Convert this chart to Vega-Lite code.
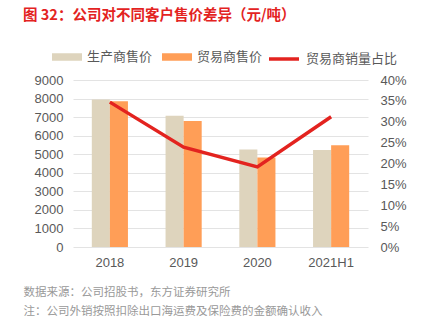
{
  "$schema": "https://vega.github.io/schema/vega-lite/v6.json",
  "width": 295,
  "height": 167,
  "autosize": {"type": "none"},
  "padding": {"left": 73, "top": 80, "right": 53, "bottom": 86},
  "background": "white",
  "title": {
    "text": "图 32：公司对不同客户售价差异（元/吨）",
    "anchor": "start",
    "frame": "group",
    "dx": -50,
    "offset": 19,
    "font": "Noto Sans CJK SC",
    "fontSize": 14.5,
    "fontWeight": "bold",
    "color": "#e3231f"
  },
  "config": {
    "view": {"stroke": null},
    "font": "Liberation Sans",
    "axis": {"labelColor": "#595959", "labelFontSize": 13, "labelFont": "Liberation Sans", "ticks": false, "domain": false},
    "legend": {"labelFont": "Noto Sans CJK SC", "labelFontSize": 13, "labelColor": "#595959"}
  },
  "data": {
    "values": [
      {"year": "2018", "series": "生产商售价", "price": 7950, "share": 0.347},
      {"year": "2018", "series": "贸易商售价", "price": 7850, "share": 0.347},
      {"year": "2019", "series": "生产商售价", "price": 7080, "share": 0.239},
      {"year": "2019", "series": "贸易商售价", "price": 6790, "share": 0.239},
      {"year": "2020", "series": "生产商售价", "price": 5250, "share": 0.192},
      {"year": "2020", "series": "贸易商售价", "price": 4820, "share": 0.192},
      {"year": "2021H1", "series": "生产商售价", "price": 5230, "share": 0.312},
      {"year": "2021H1", "series": "贸易商售价", "price": 5480, "share": 0.312}
    ]
  },
  "encoding": {
    "x": {
      "field": "year",
      "type": "nominal",
      "sort": null,
      "scale": {"paddingInner": 0.51, "paddingOuter": 0.255},
      "axis": {
        "labelAngle": 0,
        "labelPadding": 9,
        "grid": false,
        "title": ["数据来源：公司招股书，东方证券研究所", "注：公司外销按照扣除出口海运费及保险费的金额确认收入"],
        "titleFont": "Noto Sans CJK SC",
        "titleFontSize": 11.5,
        "titleFontWeight": "normal",
        "titleColor": "#999999",
        "titleAnchor": "start",
        "titleAlign": "left",
        "titleBaseline": "middle",
        "titleX": -50,
        "titleY": 45,
        "titleLineHeight": 19
      }
    }
  },
  "layer": [
    {
      "mark": {"type": "bar"},
      "encoding": {
        "xOffset": {"field": "series", "type": "nominal", "scale": {"paddingInner": 0, "paddingOuter": 0}},
        "y": {
          "field": "price",
          "type": "quantitative",
          "scale": {"domain": [0, 9000]},
          "axis": {"title": null, "format": "d", "values": [0,1000,2000,3000,4000,5000,6000,7000,8000,9000], "grid": true, "gridColor": "#e3e3e3", "gridWidth": 1.2, "labelPadding": 10}
        },
        "color": {
          "field": "series",
          "type": "nominal",
          "scale": {"range": ["#ded4bd", "#ff9e57"]},
          "legend": {
            "title": null,
            "orient": "none",
            "direction": "horizontal",
            "legendX": -21,
            "legendY": -38,
            "symbolType": "M-1,-0.25H1V0.25H-1Z",
            "symbolSize": 900,
            "symbolStrokeWidth": 0,
            "labelOffset": 5,
            "columnPadding": 9
          }
        }
      }
    },
    {
      "mark": {"type": "line", "strokeWidth": 3.5, "color": "#e3231f"},
      "encoding": {
        "y": {
          "field": "share",
          "type": "quantitative",
          "scale": {"domain": [0, 0.4]},
          "axis": {"title": null, "orient": "right", "format": ".0%", "values": [0,0.05,0.1,0.15,0.2,0.25,0.3,0.35,0.4], "grid": false, "labelPadding": 12}
        },
        "stroke": {
          "datum": "贸易商销量占比",
          "scale": {"range": ["#e3231f"]},
          "legend": {
            "title": null,
            "orient": "none",
            "legendX": 194,
            "legendY": -38,
            "symbolType": "stroke",
            "symbolSize": 900,
            "symbolStrokeWidth": 3.5,
            "labelOffset": 5
          }
        }
      }
    }
  ],
  "resolve": {"scale": {"y": "independent"}}
}
